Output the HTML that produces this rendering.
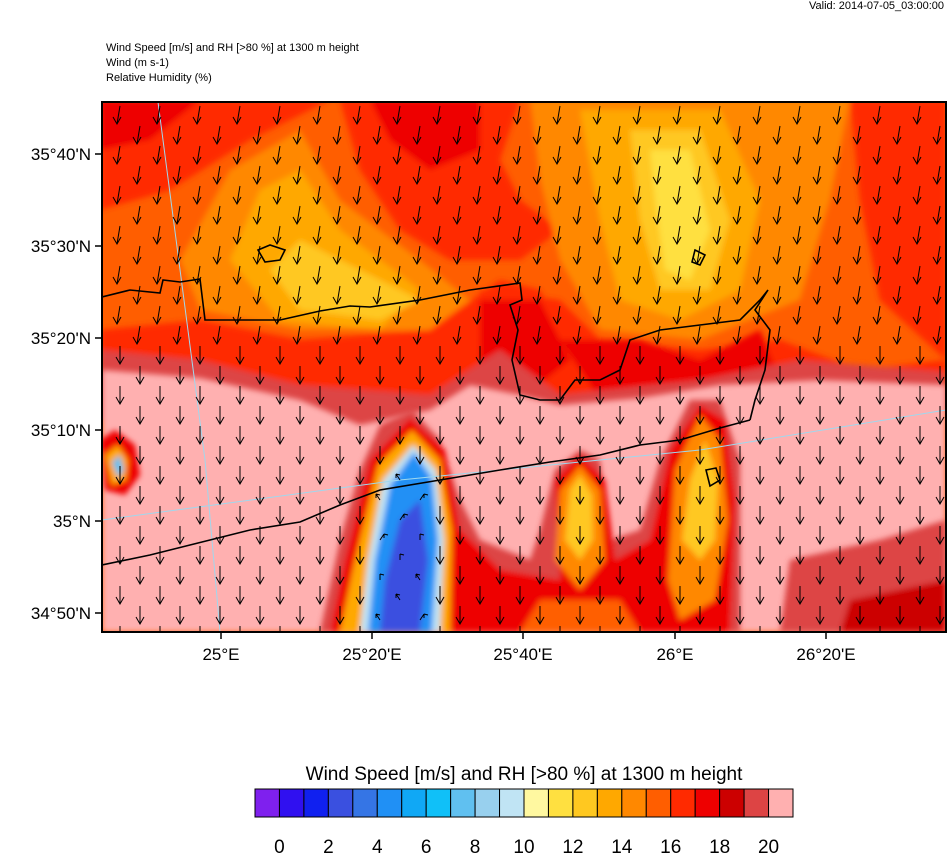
<!DOCTYPE html>
<html><head><meta charset="utf-8"><style>
body{margin:0;background:#fff;width:948px;height:854px;overflow:hidden;font-family:"Liberation Sans",sans-serif}
</style></head><body>
<svg width="948" height="854" xmlns="http://www.w3.org/2000/svg" font-family="Liberation Sans, sans-serif">
<text x="944" y="9" font-size="11" text-anchor="end">Valid: 2014-07-05_03:00:00</text>
<text x="106" y="51" font-size="11">Wind Speed [m/s] and RH [&gt;80 %] at 1300 m height</text>
<text x="106" y="66" font-size="11">Wind   (m s-1)</text>
<text x="106" y="81" font-size="11">Relative Humidity   (%)</text>
<defs><clipPath id="c"><rect x="102" y="102" width="844" height="530"/></clipPath>
<filter id="b"><feGaussianBlur stdDeviation="3"/></filter></defs>
<g clip-path="url(#c)">
<rect x="102" y="102" width="844" height="530" fill="#FF5E00"/>
<g filter="url(#b)">
<path d="M100 100 L330 100 L250 140 L170 190 L100 210Z" fill="#FF2A00"/>
<path d="M100 100 L200 100 L150 140 L100 150Z" fill="#EE0000"/>
<path d="M340 100 L520 100 L500 160 L520 200 L560 230 L520 260 L450 260 L400 230 L360 170Z" fill="#FF2A00"/>
<path d="M370 100 L480 100 L480 150 L430 170 L390 140Z" fill="#EE0000"/>
<path d="M850 100 L946 100 L946 360 L880 300 L860 200Z" fill="#FF2A00"/>
<path d="M180 260 L230 170 L300 130 L340 200 L420 260 L470 300 L430 330 L300 330 L200 310Z" fill="#FF8800"/>
<path d="M230 260 L260 190 L300 170 L340 230 L420 290 L380 330 L280 320 Z" fill="#FFA800"/>
<path d="M270 270 L300 240 L380 280 L420 300 L380 320 L300 310Z" fill="#FFC820"/>
<path d="M530 100 L850 100 L830 200 L800 300 L700 340 L600 330 L560 260 L540 180Z" fill="#FF8800"/>
<path d="M580 110 L720 110 L760 200 L740 290 L680 320 L620 300 L600 220Z" fill="#FFA800"/>
<path d="M630 130 L700 130 L730 220 L710 290 L660 290 L640 220Z" fill="#FFC820"/>
<path d="M650 150 L690 150 L710 230 L690 280 L665 270 L655 200Z" fill="#FFE040"/>
<path d="M100 330 L200 320 L300 340 L430 330 L500 280 L540 290 L560 330 L520 370 L480 390 L420 420 L320 430 L200 410 L100 390Z" fill="#FF2A00"/>
<path d="M480 290 L560 300 L600 340 L700 350 L780 340 L860 370 L946 360 L946 400 L800 420 L700 410 L560 410 L480 400Z" fill="#FF2A00"/>
<path d="M480 300 L540 300 L570 360 L520 400 L480 380Z" fill="#EE0000"/>
<path d="M560 340 L640 340 L700 360 L760 330 L780 380 L700 400 L600 400Z" fill="#EE0000"/>
<path d="M100 350 L200 360 L300 385 L430 395 L500 350 L560 395 L700 380 L800 360 L946 372 L946 410 L800 420 L600 420 L450 430 L300 440 L100 420Z" fill="#DD4444"/>
</g>
<path d="M102 370 L200 378 L300 400 L360 425 L430 410 L470 385 L520 395 L560 405 L640 398 L720 385 L820 380 L946 385 L946 632 L102 632Z" fill="#FFB0B0" filter="url(#b)"/>
<g filter="url(#b)">
<path d="M790 560 L880 540 L946 520 L946 632 L780 632Z" fill="#DD4444"/>
<path d="M850 600 L946 580 L946 632 L840 632Z" fill="#CC0000"/>
<path d="M320 632 L340 540 L360 470 L380 425 L412 410 L440 440 L460 500 L480 540 L530 560 L540 530 L555 470 L580 450 L600 460 L610 540 L640 530 L660 460 L690 400 L720 400 L740 460 L740 632Z" fill="#DD4444"/>
<path d="M330 632 L345 560 L370 460 L410 418 L445 450 L460 530 L500 570 L560 580 L555 480 L580 455 L605 480 L615 560 L650 540 L670 450 L700 405 L725 420 L735 500 L730 632Z" fill="#EE0000"/>
<path d="M520 632 L540 600 L620 600 L640 632Z" fill="#FF5E00"/>
<path d="M555 560 L560 490 L580 465 L600 490 L605 560 L580 590Z" fill="#FF8800"/>
<path d="M565 540 L570 490 L580 475 L592 495 L593 540 L580 560Z" fill="#FFC820"/>
<path d="M668 580 L675 470 L700 415 L720 440 L728 520 L715 600 L680 620Z" fill="#FF8800"/>
<path d="M682 540 L690 480 L705 440 L718 480 L715 540 L700 560Z" fill="#FFC820"/>
<path d="M340 632 L355 560 L378 465 L412 430 L440 460 L452 530 L450 632Z" fill="#FFA800"/>
<path d="M360 632 L368 560 L383 480 L413 445 L436 470 L444 540 L440 632Z" fill="#C0E4F4"/>
<path d="M368 632 L375 560 L390 485 L414 452 L432 478 L438 540 L432 632Z" fill="#2090F5"/>
<path d="M380 632 L385 580 L400 520 L420 500 L428 560 L420 632Z" fill="#3A50E0"/>
<path d="M100 440 L115 430 L135 445 L140 475 L125 495 L105 490Z" fill="#EE0000"/>
<path d="M105 455 L118 445 L128 460 L126 480 L112 485Z" fill="#FFA800"/>
<path d="M112 462 L120 455 L124 470 L118 478Z" fill="#60C0F0"/>
</g>
<g stroke="#9fd8ee" stroke-width="1" fill="none">
<path d="M158 102 L205 460 L220 632"/>
<path d="M102 520 L400 480 L700 450 L946 410"/>
</g>
<g stroke="#000" stroke-width="1.6" fill="none">
<path d="M102 297 L130 290 L160 293 L163 280 L180 282 L200 279 L205 320 L220 320 L280 320 L320 311 L350 306 L370 307 L420 300 L470 290 L520 283 L522 300 L510 305 L518 330 L512 360 L520 395 L540 400 L560 400 L575 380 L600 380 L620 370 L630 340 L660 330 L700 325 L740 320 L760 300 L768 290 L755 310 L770 330 L765 370 L755 400 L750 420"/>
<path d="M102 565 L150 555 L190 545 L250 530 L300 522 L340 505 L380 490 L440 480 L500 470 L550 462 L600 455 L640 445 L680 440 L720 428 L750 420"/>
<path d="M258 250 L270 245 L285 250 L280 260 L265 262Z"/>
<path d="M695 250 L705 255 L700 265 L692 262Z"/>
<path d="M706 470 L716 468 L720 480 L710 486Z"/>
</g>
<g id="arr" stroke="#000" stroke-width="1" fill="none"></g>
</g>
<rect x="102" y="102" width="844" height="530" fill="none" stroke="#000" stroke-width="2"/>
<g stroke="#000" stroke-width="1.5">
<line x1="95" y1="154" x2="102" y2="154"/><line x1="95" y1="246" x2="102" y2="246"/><line x1="95" y1="338" x2="102" y2="338"/><line x1="95" y1="430" x2="102" y2="430"/><line x1="95" y1="521" x2="102" y2="521"/><line x1="95" y1="613" x2="102" y2="613"/>
<line x1="221" y1="632" x2="221" y2="639"/><line x1="372" y1="632" x2="372" y2="639"/><line x1="523" y1="632" x2="523" y2="639"/><line x1="675" y1="632" x2="675" y2="639"/><line x1="826" y1="632" x2="826" y2="639"/>
</g>
<g font-size="17" text-anchor="end">
<text x="91" y="160">35°40'N</text><text x="91" y="252">35°30'N</text><text x="91" y="344">35°20'N</text><text x="91" y="436">35°10'N</text><text x="91" y="527">35°N</text><text x="91" y="619">34°50'N</text>
</g>
<g font-size="17" text-anchor="middle">
<text x="221" y="660">25°E</text><text x="372" y="660">25°20'E</text><text x="523" y="660">25°40'E</text><text x="675" y="660">26°E</text><text x="826" y="660">26°20'E</text>
</g>
<text x="524" y="780" font-size="19" text-anchor="middle">Wind Speed [m/s] and RH [&gt;80 %] at 1300 m height</text>
<g id="cb" stroke="#000" stroke-width="1"></g>
<g font-size="19" text-anchor="middle" id="cbl"></g>
</svg>
<script>
var ns="http://www.w3.org/2000/svg";
var cols=["#7F20EE","#3010F0","#1020F0","#3A50E0","#3575E5","#2090F5","#10A8F5","#10C0F8","#60C0F0","#98D0EE","#C0E4F4","#FFF8A0","#FFE040","#FFC820","#FFA800","#FF8800","#FF5E00","#FF2A00","#EE0000","#CC0000","#DD4444","#FFB0B0"];
var cb=document.getElementById("cb"),x0=255,w=538/22;
cols.forEach(function(c,i){var r=document.createElementNS(ns,"rect");r.setAttribute("x",x0+i*w);r.setAttribute("y",789);r.setAttribute("width",w);r.setAttribute("height",28);r.setAttribute("fill",c);cb.appendChild(r);});
var cl=document.getElementById("cbl");
for(var k=0;k<=10;k++){var t=document.createElementNS(ns,"text");t.setAttribute("x",x0+(2*k+1)*w);t.setAttribute("y",853);t.textContent=2*k;cl.appendChild(t);}
var g=document.getElementById("arr"),d="";
var ri=0;
for(var y=106;y<630;y+=20,ri++){var ci=0;for(var x=120;x<946;x+=20,ci++){
 if((ri+ci)%2)continue;
 var blue=(x>370&&x<440&&y>450);
 if(blue){var dx=((x*7+y)%3-1)*4;d+="M"+x+" "+(y+14)+"l"+(-dx)+" -6m0 0l0 4m0 -4l4 1";continue;}
 var dx=(y<330?-3:0);
 d+="M"+x+" "+y+"L"+(x+dx)+" "+(y+18)+"M"+(x+dx-4)+" "+(y+11)+"L"+(x+dx)+" "+(y+18)+"L"+(x+dx+4)+" "+(y+11);
}}
var p=document.createElementNS(ns,"path");p.setAttribute("d",d);g.appendChild(p);
</script>
</body></html>
